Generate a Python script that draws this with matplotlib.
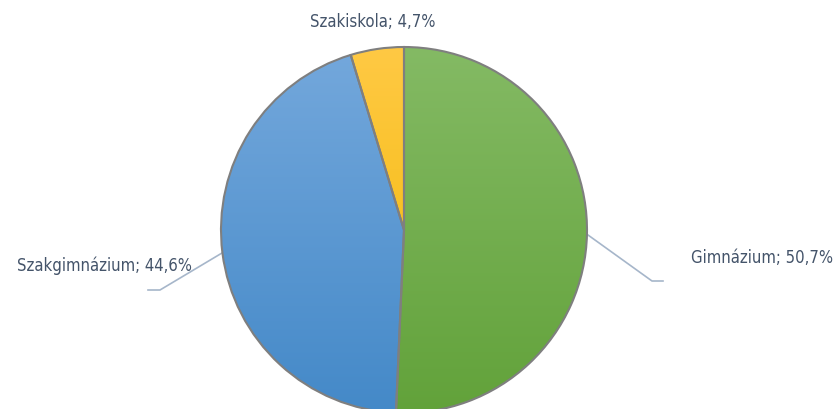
import numpy as np
import matplotlib
matplotlib.use('Agg')
import matplotlib.pyplot as plt
from matplotlib.colors import LinearSegmentedColormap
from matplotlib import font_manager

labels = ['Gimnázium', 'Szakgimnázium', 'Szakiskola']
shares = [50.7, 44.6, 4.7]
top_colors = ['#84BA64', '#74A8DC', '#FFC944']
bottom_colors = ['#62A23A', '#4489C8', '#F0B700']

# look for a narrow font (the original labels use a condensed face)
condensed = [f for f in font_manager.fontManager.ttflist
             if f.stretch in ('condensed', 'semi-condensed') or 'Narrow' in f.name
             or 'Condensed' in f.name]

W, H = 837, 409
fig = plt.figure(figsize=(W / 100, H / 100), dpi=100)
ax = fig.add_axes([0, 0, 1, 1])

cx, cy, r = 404, H - 230, 183
wedges, _ = ax.pie(shares, startangle=90, counterclock=False, center=(cx, cy), radius=r,
                   frame=True, wedgeprops=dict(facecolor='none', edgecolor='#7f7f7f', linewidth=1.5))
ax.set_xlim(0, W)
ax.set_ylim(0, H)
ax.set_aspect('equal')
ax.axis('off')

# vertical gradient fill, clipped to each wedge
grad = np.linspace(0, 1, 256).reshape(-1, 1)
for w, c0, c1 in zip(wedges, top_colors, bottom_colors):
    cmap = LinearSegmentedColormap.from_list('g', [c0, c1])
    im = ax.imshow(grad, cmap=cmap, extent=(cx - r, cx + r, cy - r, cy + r),
                   origin='upper', aspect='auto', zorder=1)
    im.set_clip_path(w)
    w.set_zorder(2)

if condensed:
    txt_kw = dict(color='#44546A', fontsize=12, family=[condensed[0].name, 'DejaVu Sans'],
                  stretch=condensed[0].stretch, va='center')
else:
    txt_kw = dict(color='#44546A', fontsize=11, family=['DejaVu Sans'], va='center')
lbl = [f"{n}; {str(v).replace('.', ',')}%" for n, v in zip(labels, shares)]

# leader lines
line_kw = dict(color='#A6B6CA', linewidth=1.2, zorder=0)
ax.plot([588, 652, 663], [H - 235, H - 281, H - 281], **line_kw)
ax.plot([222, 160, 148], [H - 253, H - 290, H - 290], **line_kw)

ax.text(691, H - 258, lbl[0], ha='left', **txt_kw)
ax.text(192, H - 266, lbl[1], ha='right', **txt_kw)
ax.text(373, H - 22, lbl[2], ha='center', **txt_kw)

fig.savefig('out.png', dpi=100)
